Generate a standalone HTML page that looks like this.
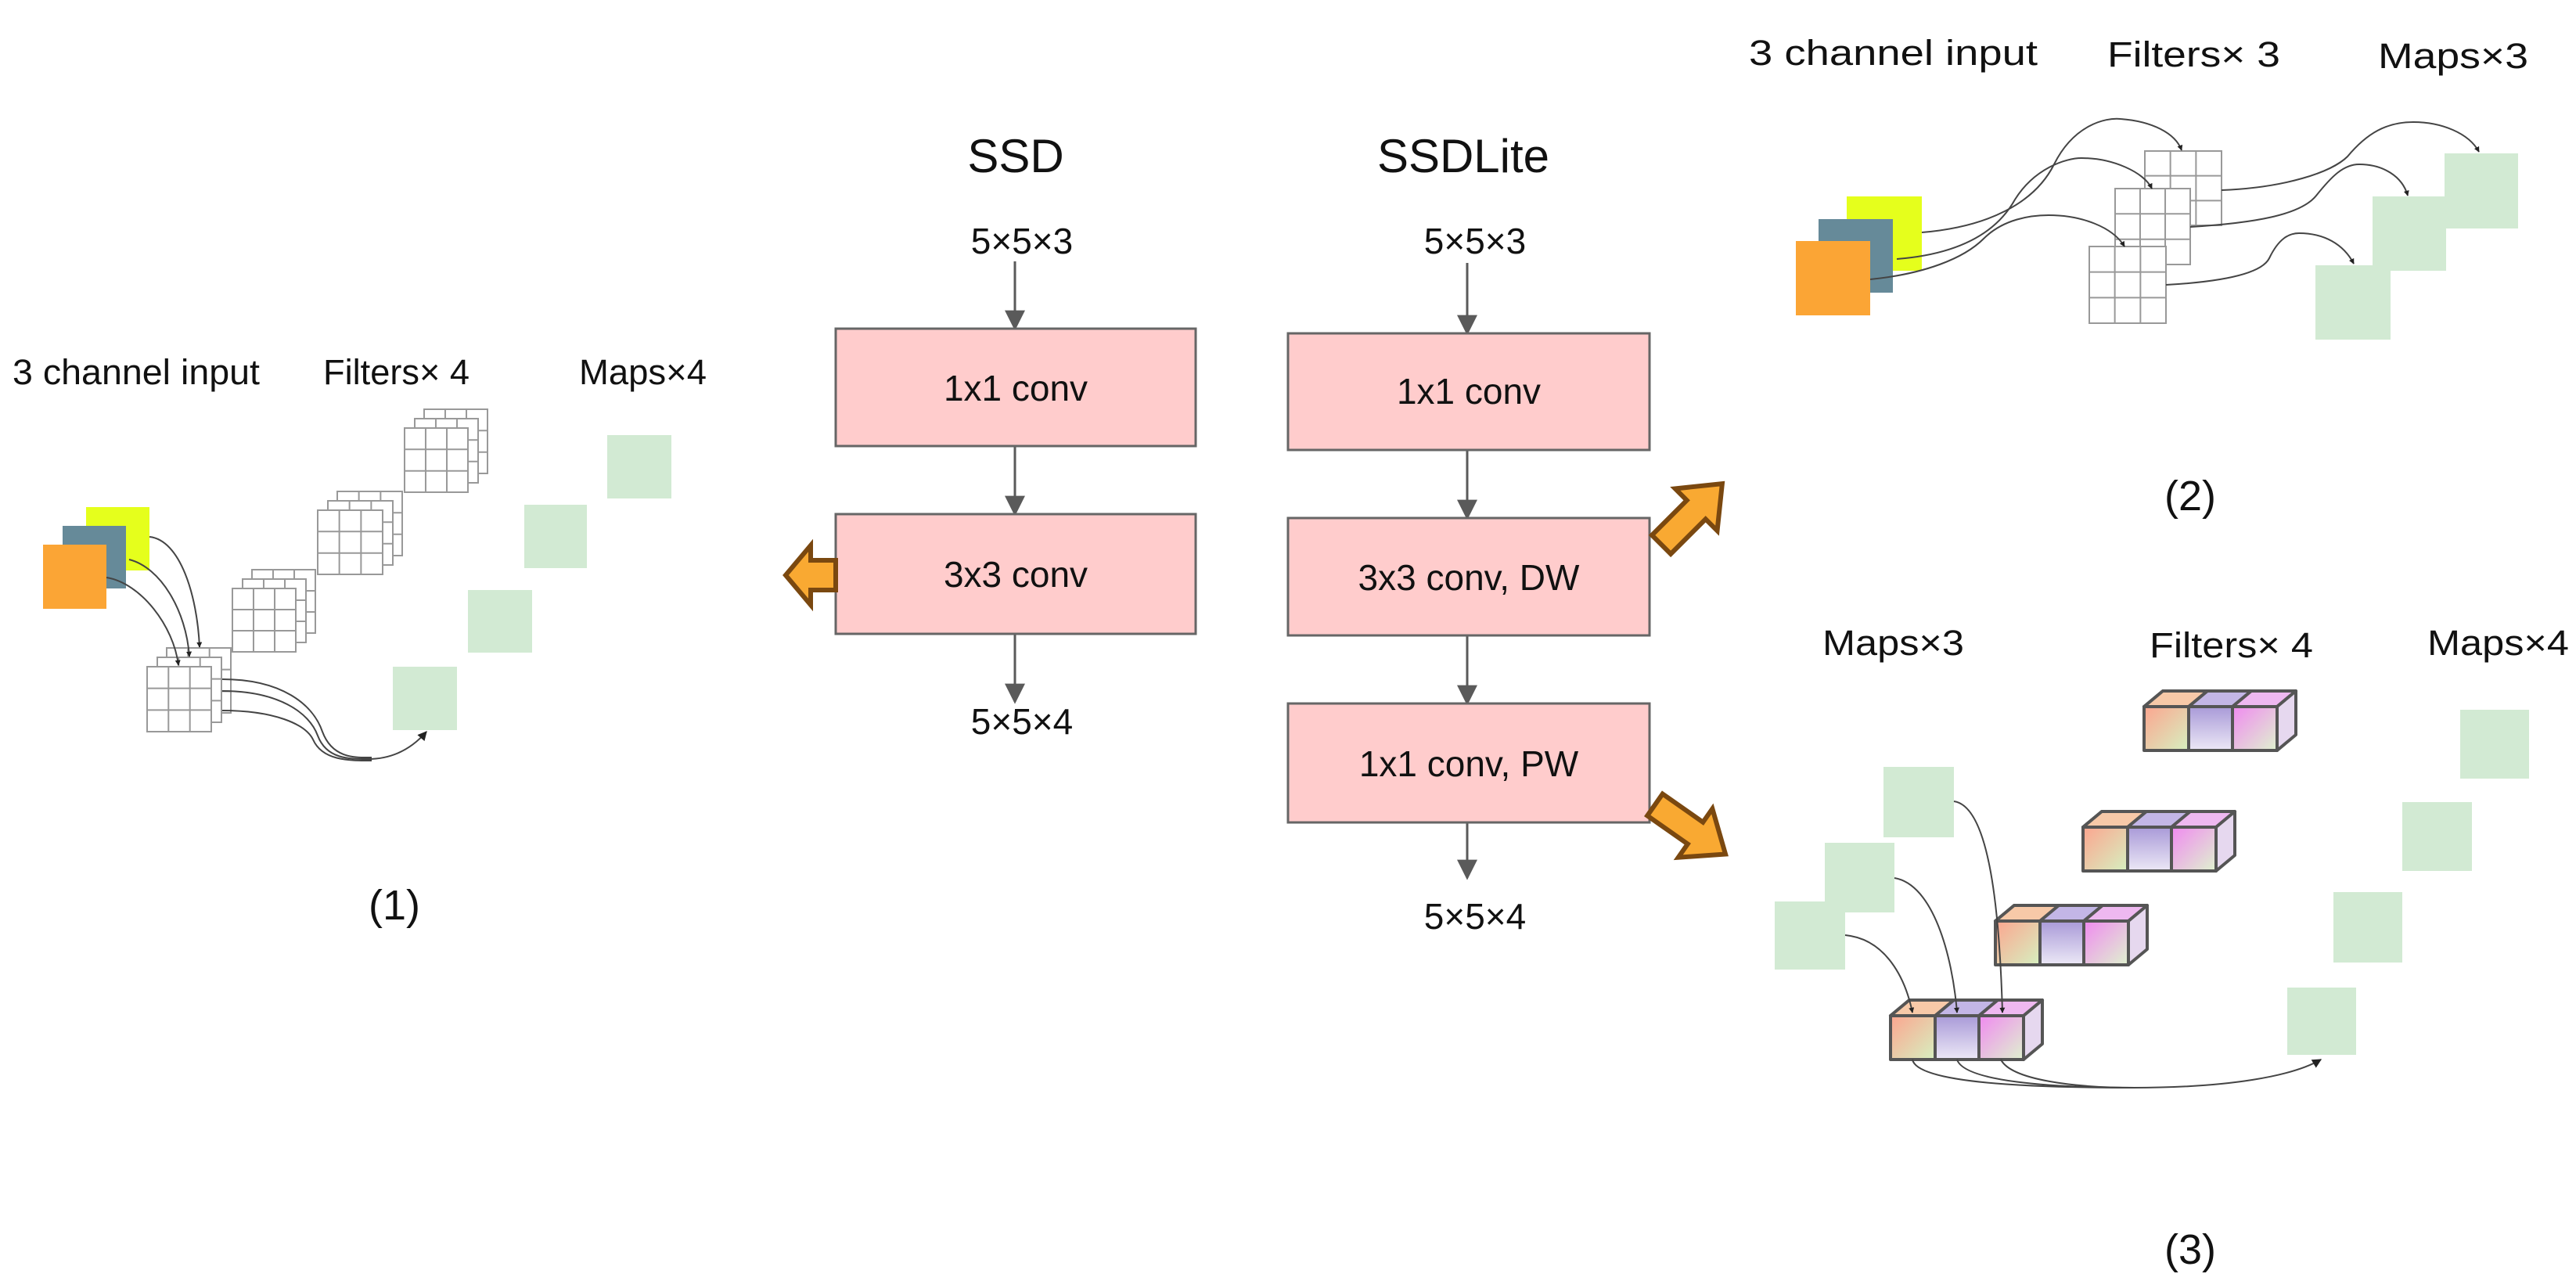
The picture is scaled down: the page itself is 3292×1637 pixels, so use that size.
<!DOCTYPE html>
<html><head><meta charset="utf-8"><style>
html,body{margin:0;padding:0;background:#fff;}
svg{display:block;}
text{font-family:"Liberation Sans",Arial,sans-serif;fill:#111;}
</style></head><body>
<svg width="3292" height="1637" viewBox="0 0 3292 1637" xmlns="http://www.w3.org/2000/svg">
<defs>
<marker id="ah" viewBox="0 0 10 10" refX="9" refY="5" markerWidth="7" markerHeight="7" orient="auto-start-reverse" markerUnits="userSpaceOnUse"><path d="M0,0 L10,5 L0,10 z" fill="#222"/></marker>
<marker id="ag" viewBox="0 0 10 10" refX="9" refY="5" markerWidth="26" markerHeight="26" orient="auto" markerUnits="userSpaceOnUse"><path d="M0,0 L10,5 L0,10 z" fill="#5a5a5a"/></marker>
<marker id="ah2" viewBox="0 0 10 10" refX="9" refY="5" markerWidth="12" markerHeight="12" orient="auto" markerUnits="userSpaceOnUse"><path d="M0,0 L10,5 L0,10 z" fill="#222"/></marker>
<g id="grid">
<rect x="0" y="0" width="1" height="1" fill="#fff" stroke="#999" stroke-width="2" vector-effect="non-scaling-stroke"/>
<path d="M0.333,0V1M0.667,0V1M0,0.333H1M0,0.667H1" stroke="#999" stroke-width="2" vector-effect="non-scaling-stroke" fill="none"/>
</g>
<linearGradient id="c1" x1="0" y1="0" x2="1" y2="1"><stop offset="0" stop-color="#fca58f"/><stop offset="1" stop-color="#d6f0c0"/></linearGradient>
<linearGradient id="c2" x1="0" y1="0" x2="0" y2="1"><stop offset="0" stop-color="#a99ad8"/><stop offset="1" stop-color="#ece8f6"/></linearGradient>
<linearGradient id="c3" x1="0" y1="0" x2="1" y2="1"><stop offset="0" stop-color="#f08af0"/><stop offset="1" stop-color="#dff2cf"/></linearGradient>
<g id="blk" stroke="#555" stroke-width="4" stroke-linejoin="round">
<polygon points="0,0 170,0 194,-20 24,-20" fill="#e8d8f0"/>
<polygon points="0,0 57,0 81,-20 24,-20" fill="#f7c9a8"/>
<polygon points="57,0 113,0 137,-20 81,-20" fill="#c3b6e6"/>
<polygon points="113,0 170,0 194,-20 137,-20" fill="#eeb8f0"/>
<polygon points="170,0 194,-20 194,36 170,56" fill="#e6d8ef"/>
<rect x="0" y="0" width="57" height="56" fill="url(#c1)"/>
<rect x="57" y="0" width="56" height="56" fill="url(#c2)"/>
<rect x="113" y="0" width="57" height="56" fill="url(#c3)"/>
</g>
</defs>

<text x="1298" y="220" font-size="60" text-anchor="middle">SSD</text>
<text x="1870" y="220" font-size="60" text-anchor="middle">SSDLite</text>
<g font-size="46" text-anchor="middle">
<text x="1306" y="324">5×5×3</text>
<text x="1885" y="324">5×5×3</text>
<text x="1306" y="938">5×5×4</text>
<text x="1885" y="1187">5×5×4</text>
</g>
<g stroke="#5a5a5a" stroke-width="3" fill="none" marker-end="url(#ag)">
<line x1="1297" y1="334" x2="1297" y2="420"/>
<line x1="1297" y1="570" x2="1297" y2="657"/>
<line x1="1297" y1="810" x2="1297" y2="897"/>
<line x1="1875" y1="336" x2="1875" y2="426"/>
<line x1="1875" y1="575" x2="1875" y2="662"/>
<line x1="1875" y1="812" x2="1875" y2="899"/>
<line x1="1875" y1="1051" x2="1875" y2="1122"/>
</g>
<g fill="#ffcccc" stroke="#666" stroke-width="3">
<rect x="1068" y="420" width="460" height="150"/>
<rect x="1068" y="657" width="460" height="153"/>
<rect x="1646" y="426" width="462" height="149"/>
<rect x="1646" y="662" width="462" height="150"/>
<rect x="1646" y="899" width="462" height="152"/>
</g>
<g font-size="46" text-anchor="middle">
<text x="1298" y="512">1x1 conv</text>
<text x="1298" y="750">3x3 conv</text>
<text x="1877" y="516">1x1 conv</text>
<text x="1877" y="754">3x3 conv, DW</text>
<text x="1877" y="992">1x1 conv, PW</text>
</g>
<g fill="#f9a932" stroke="#7a4810" stroke-width="6" stroke-linejoin="miter">
<polygon points="1004,735 1036,697 1036,716 1068,716 1068,754 1036,754 1036,773"/>
<g transform="translate(2162,657) rotate(-45)"><polygon points="-55,-17 8,-17 8,-38 55,0 8,38 8,17 -55,17"/></g>
<g transform="translate(2160,1060) rotate(35)"><polygon points="-55,-17 8,-17 8,-38 55,0 8,38 8,17 -55,17"/></g>
</g>

<g font-size="45">
<text x="16" y="491" textLength="316" lengthAdjust="spacingAndGlyphs">3 channel input</text>
<text x="413" y="491" textLength="187" lengthAdjust="spacingAndGlyphs">Filters× 4</text>
<text x="740" y="491" textLength="163" lengthAdjust="spacingAndGlyphs">Maps×4</text>
</g>
<rect x="110" y="648" width="81" height="81" fill="#e5ff1c"/>
<rect x="80" y="672" width="81" height="80" fill="#668a99"/>
<rect x="55" y="696" width="81" height="82" fill="#fba535"/>
<g fill="#d2ead3">
<rect x="776" y="556" width="82" height="81"/>
<rect x="670" y="645" width="80" height="81"/>
<rect x="598" y="754" width="82" height="80"/>
<rect x="502" y="852" width="82" height="81"/>
</g>
<g>
<use href="#grid" transform="translate(213,828) scale(82,83)"/>
<use href="#grid" transform="translate(201,840) scale(82,83)"/>
<use href="#grid" transform="translate(188,852) scale(82,83)"/>
<use href="#grid" transform="translate(322,728) scale(81,81)"/>
<use href="#grid" transform="translate(310,740) scale(81,81)"/>
<use href="#grid" transform="translate(297,752) scale(81,81)"/>
<use href="#grid" transform="translate(431,628) scale(83,82)"/>
<use href="#grid" transform="translate(419,640) scale(83,82)"/>
<use href="#grid" transform="translate(406,652) scale(83,82)"/>
<use href="#grid" transform="translate(542,523) scale(81,82)"/>
<use href="#grid" transform="translate(530,535) scale(81,82)"/>
<use href="#grid" transform="translate(517,547) scale(81,82)"/>
</g>
<g stroke="#444" stroke-width="2" fill="none" marker-end="url(#ah)">
<path d="M191,686 C230,690 252,760 255,827"/>
<path d="M165,715 C205,725 238,780 242,839"/>
<path d="M136,738 C180,745 222,800 228,850"/>
</g>
<g stroke="#444" stroke-width="2" fill="none">
<path d="M284,868 C360,868 400,900 412,935 C425,970 455,968 475,968"/>
<path d="M284,883 C355,883 395,910 406,940 C418,972 450,970 475,970"/>
<path d="M284,908 C350,908 390,925 400,945 C412,972 445,972 475,972"/>
<path d="M470,970 C500,970 525,958 545,935" marker-end="url(#ah2)"/>
</g>
<text x="504" y="1175" font-size="54" text-anchor="middle">(1)</text>

<g font-size="45">
<text x="2235" y="83" textLength="369" lengthAdjust="spacingAndGlyphs">3 channel input</text>
<text x="2693" y="85" textLength="221" lengthAdjust="spacingAndGlyphs">Filters× 3</text>
<text x="3039" y="87" textLength="192" lengthAdjust="spacingAndGlyphs">Maps×3</text>
</g>
<rect x="2360" y="251" width="96" height="95" fill="#e5ff1c"/>
<rect x="2324" y="280" width="95" height="94" fill="#668a99"/>
<rect x="2295" y="308" width="95" height="95" fill="#fba535"/>
<g fill="#d2ead3">
<rect x="3124" y="196" width="94" height="96"/>
<rect x="3032" y="251" width="94" height="95"/>
<rect x="2959" y="339" width="96" height="95"/>
</g>
<use href="#grid" transform="translate(2741,193) scale(98,95)"/>
<use href="#grid" transform="translate(2703,241) scale(96,97)"/>
<use href="#grid" transform="translate(2670,315) scale(98,98)"/>
<g stroke="#444" stroke-width="2" fill="none" marker-end="url(#ah)">
<path d="M2456,297 C2540,290 2600,260 2625,210 C2650,160 2690,150 2710,152 C2750,155 2780,170 2788,192"/>
<path d="M2424,331 C2500,325 2550,300 2575,255 C2600,215 2640,202 2660,202 C2700,202 2740,220 2750,241"/>
<path d="M2390,357 C2460,350 2510,330 2535,305 C2560,280 2595,275 2618,275 C2660,275 2700,290 2715,315"/>
<path d="M2839,243 C2920,240 2980,220 3000,200 C3025,170 3050,156 3084,156 C3120,156 3155,170 3168,194"/>
<path d="M2799,290 C2880,285 2940,275 2960,250 C2980,225 2995,210 3015,210 C3045,210 3070,225 3077,250"/>
<path d="M2768,364 C2840,360 2890,350 2900,330 C2912,305 2925,298 2938,298 C2970,298 2995,312 3008,337"/>
</g>
<text x="2799" y="652" font-size="54" text-anchor="middle">(2)</text>

<g font-size="45">
<text x="2329" y="837" textLength="181" lengthAdjust="spacingAndGlyphs">Maps×3</text>
<text x="2747" y="840" textLength="209" lengthAdjust="spacingAndGlyphs">Filters× 4</text>
<text x="3102" y="837" textLength="181" lengthAdjust="spacingAndGlyphs">Maps×4</text>
</g>
<g fill="#d2ead3">
<rect x="2407" y="980" width="90" height="90"/>
<rect x="2332" y="1077" width="89" height="89"/>
<rect x="2268" y="1152" width="90" height="87"/>
<rect x="3144" y="907" width="88" height="88"/>
<rect x="3070" y="1025" width="89" height="88"/>
<rect x="2982" y="1140" width="88" height="90"/>
<rect x="2923" y="1262" width="88" height="86"/>
</g>
<use href="#blk" transform="translate(2740,903)"/>
<use href="#blk" transform="translate(2662,1057)"/>
<use href="#blk" transform="translate(2550,1177)"/>
<use href="#blk" transform="translate(2416,1298)"/>
<g stroke="#444" stroke-width="2" fill="none" marker-end="url(#ah)">
<path d="M2497,1024 C2540,1030 2555,1150 2559,1294"/>
<path d="M2421,1122 C2470,1130 2495,1220 2501,1294"/>
<path d="M2358,1195 C2410,1200 2435,1250 2444,1294"/>
</g>
<g stroke="#444" stroke-width="2" fill="none">
<path d="M2444,1354 C2450,1385 2600,1390 2729,1390"/>
<path d="M2501,1354 C2510,1382 2620,1390 2729,1390"/>
<path d="M2557,1354 C2570,1380 2650,1390 2729,1390"/>
<path d="M2725,1390 C2850,1390 2930,1375 2966,1354" marker-end="url(#ah2)"/>
</g>
<text x="2799" y="1615" font-size="54" text-anchor="middle">(3)</text>
</svg>
</body></html>
